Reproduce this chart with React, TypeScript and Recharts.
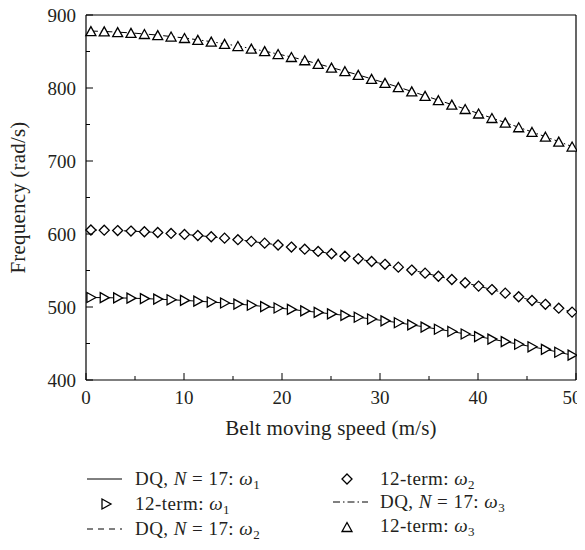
import React from 'react';
import { ComposedChart, Line, XAxis, YAxis, ReferenceLine } from 'recharts';

// Belt moving speed (m/s) at which the 12-term results are plotted
const speed = [0.5, 1.86, 3.23, 4.59, 5.96, 7.32, 8.68, 10.05, 11.41, 12.78, 14.14, 15.5, 16.87, 18.23, 19.6, 20.96, 22.32, 23.69, 25.05, 26.42, 27.78, 29.14, 30.51, 31.87, 33.24, 34.6, 35.96, 37.33, 38.69, 40.06, 41.42, 42.78, 44.15, 45.51, 46.88, 48.24, 49.6];
// Frequencies (rad/s)
const omega1 = [513, 512.8, 512.5, 512.1, 511.5, 510.8, 509.9, 509, 508, 506.8, 505.5, 504, 502.4, 500.6, 498.7, 496.7, 494.6, 492.6, 490.5, 488.5, 486, 483.5, 481, 478.5, 475.5, 472.5, 469.5, 466.5, 463, 459.5, 456, 452.5, 449, 445.5, 442, 438, 434];
const omega2 = [605.5, 605.2, 604.7, 604.0, 603.1, 602.0, 600.8, 599.4, 597.9, 596.2, 594.3, 592.2, 589.9, 587.5, 584.9, 582.1, 579.2, 576.1, 572.9, 569.5, 566.0, 562.3, 558.5, 554.6, 550.6, 546.4, 542.1, 537.7, 533.2, 528.6, 523.9, 519.0, 514.0, 508.9, 503.7, 498.4, 493.0];
const omega3 = [878, 877.5, 876.5, 875.5, 874, 872.5, 870.5, 868.5, 866, 863.5, 860.5, 857.5, 854, 850.5, 846.5, 842.5, 838, 833, 828, 823, 818, 812.5, 807, 801.2, 795.3, 789.3, 783.3, 777.3, 771.2, 765.1, 758.9, 752.6, 746.2, 739.8, 733.3, 726.6, 719.8];

const xTicks = [0, 5, 10, 15, 20, 25, 30, 35, 40, 45, 50];
const yTicks = [400, 450, 500, 550, 600, 650, 700, 750, 800, 850, 900];

const data = speed.map((s, i) => ({ x: s, w1: omega1[i], w2: omega2[i], w3: omega3[i] }));

const FONT = "'Liberation Serif', 'DejaVu Serif', serif";
const W = 577;
const H = 534;
const TXT = '#231f20';

const XTick = (props: any) => {
  const { x, y, payload } = props;
  const v = payload.value;
  const major = v % 10 === 0;
  const shift = v === 50 ? -4 : 0;
  return (
    <g>
      <line x1={x} x2={x} y1={y} y2={y - (major ? 7 : 4)} stroke="#000" strokeWidth={1} />
      {major && (
        <text x={x + shift} y={y + 23.5} textAnchor="middle" style={{ fontFamily: FONT }} fontSize={19} fill={TXT}>{v}</text>
      )}
    </g>
  );
};

const YTick = (props: any) => {
  const { x, y, payload } = props;
  const v = payload.value;
  const major = v % 100 === 0;
  return (
    <g>
      <line x1={x} x2={x + (major ? 7 : 4)} y1={y} y2={y} stroke="#000" strokeWidth={1} />
      {major && (
        <text x={x - 10} y={y + 6.5} textAnchor="end" style={{ fontFamily: FONT }} fontSize={19} fill={TXT}>{v}</text>
      )}
    </g>
  );
};

const triUp = (cx: number, cy: number, key?: any) => (
  <polygon key={key} points={`${cx},${cy - 4.5} ${cx + 5},${cy + 4.5} ${cx - 5},${cy + 4.5}`} fill="#fff" stroke="#000" strokeWidth={1.3} />
);
const triRight = (cx: number, cy: number, key?: any) => (
  <polygon key={key} points={`${cx - 4},${cy - 5} ${cx + 5},${cy} ${cx - 4},${cy + 5}`} fill="#fff" stroke="#000" strokeWidth={1.3} />
);
const diamond = (cx: number, cy: number, key?: any) => (
  <polygon key={key} points={`${cx},${cy - 5} ${cx + 5},${cy} ${cx},${cy + 5} ${cx - 5},${cy}`} fill="#fff" stroke="#000" strokeWidth={1.3} />
);

const Sub = ({ n }: { n: string }) => (
  <>
    <tspan fontStyle="italic">ω</tspan>
    <tspan fontSize={13} dy={4}>{n}</tspan>
  </>
);

const DQ = ({ n }: { n: string }) => (
  <>
    DQ, <tspan fontStyle="italic">N</tspan> = 17: <Sub n={n} />
  </>
);

const Term = ({ n }: { n: string }) => (
  <>
    12-term: <Sub n={n} />
  </>
);

export default function App() {
  const o = 8; // body margin offset
  const legStyle: React.CSSProperties = { fontFamily: FONT, fontSize: 19, letterSpacing: 0.45 };
  const titleStyle: React.CSSProperties = { fontFamily: FONT, fontSize: 21, letterSpacing: 0.2 };
  return (
    <div style={{ position: 'relative', width: W, height: H }}>
      <style>{'svg { overflow: visible; } .recharts-wrapper, .recharts-surface { overflow: visible !important; }'}</style>
      <ComposedChart width={W} height={H} data={data} margin={{ top: 7, right: 9, bottom: 122, left: 0 }}>
        <XAxis
          dataKey="x"
          type="number"
          domain={[0, 50]}
          ticks={xTicks}
          interval={0}
          tickLine={false}
          tickSize={0}
          tickMargin={0}
          tick={<XTick />}
          axisLine={{ stroke: '#000', strokeWidth: 1.2 }}
          height={40}
        />
        <YAxis
          type="number"
          domain={[400, 900]}
          ticks={yTicks}
          interval={0}
          tickLine={false}
          tickSize={0}
          tickMargin={0}
          tick={<YTick />}
          axisLine={{ stroke: '#000', strokeWidth: 1.2 }}
          width={78}
        />
        <ReferenceLine y={900} stroke="#000" strokeWidth={1.2} />
        <ReferenceLine x={50} stroke="#000" strokeWidth={1.2} />
        <Line dataKey="w1" stroke="#000" strokeWidth={1} dot={false} isAnimationActive={false} />
        <Line dataKey="w2" stroke="#000" strokeWidth={1} strokeDasharray="6 5" dot={false} isAnimationActive={false} />
        <Line dataKey="w3" stroke="#000" strokeWidth={1} strokeDasharray="7 3 1.5 3" dot={false} isAnimationActive={false} />
        <Line dataKey="w1" stroke="none" isAnimationActive={false} dot={(p: any) => triRight(p.cx, p.cy, `a${p.index}`)} />
        <Line dataKey="w2" stroke="none" isAnimationActive={false} dot={(p: any) => diamond(p.cx, p.cy, `b${p.index}`)} />
        <Line dataKey="w3" stroke="none" isAnimationActive={false} dot={(p: any) => triUp(p.cx, p.cy, `c${p.index}`)} />
      </ComposedChart>
      <svg width={W} height={H} style={{ position: 'absolute', left: 0, top: 0, pointerEvents: 'none' }}>
        <text x={331 - o} y={435 - o} textAnchor="middle" style={titleStyle} fill={TXT}>Belt moving speed (m/s)</text>
        <text x={25 - o} y={197.5 - o} textAnchor="middle" style={titleStyle} fill={TXT} transform={`rotate(-90 ${25 - o} ${197.5 - o})`}>Frequency (rad/s)</text>
        {/* legend column 1 */}
        <line x1={87 - o} x2={122 - o} y1={479 - o} y2={479 - o} stroke="#000" strokeWidth={1} />
        {triRight(106 - o, 504 - o)}
        <line x1={87 - o} x2={122 - o} y1={529 - o} y2={529 - o} stroke="#000" strokeWidth={1} strokeDasharray="6 5" />
        <text x={135 - o} y={485 - o} style={legStyle} fill={TXT}><DQ n="1" /></text>
        <text x={135 - o} y={510 - o} style={legStyle} fill={TXT}><Term n="1" /></text>
        <text x={135 - o} y={535 - o} style={legStyle} fill={TXT}><DQ n="2" /></text>
        {/* legend column 2 */}
        {diamond(347 - o, 479 - o)}
        <line x1={333 - o} x2={368 - o} y1={502 - o} y2={502 - o} stroke="#000" strokeWidth={1} strokeDasharray="7 3 1.5 3" />
        {triUp(347 - o, 527 - o)}
        <text x={380 - o} y={485 - o} style={legStyle} fill={TXT}><Term n="2" /></text>
        <text x={380 - o} y={508 - o} style={legStyle} fill={TXT}><DQ n="3" /></text>
        <text x={380 - o} y={532 - o} style={legStyle} fill={TXT}><Term n="3" /></text>
      </svg>
    </div>
  );
}
